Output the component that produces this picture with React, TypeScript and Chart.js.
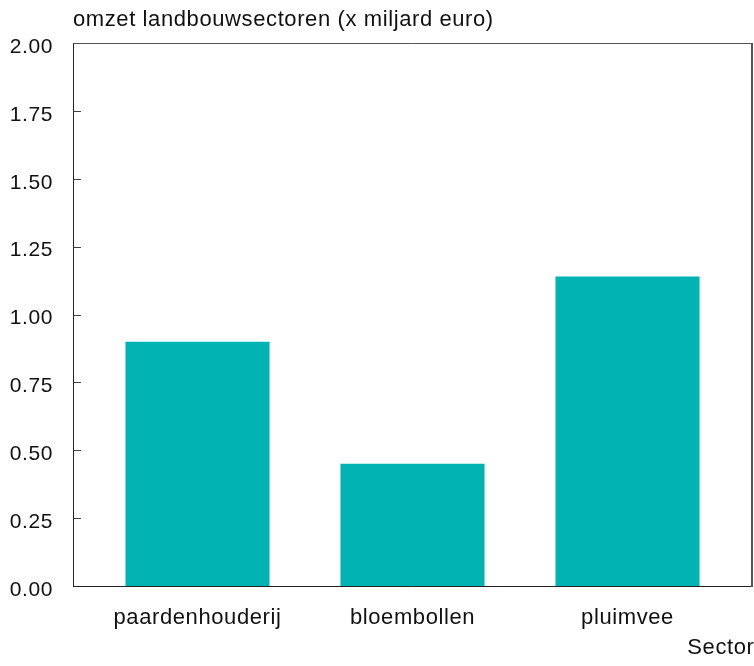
import React, { useEffect, useRef } from "react";
import { Chart, registerables } from "chart.js";

Chart.register(...registerables);

const categories = ["paardenhouderij", "bloembollen", "pluimvee"];
const omzet = [0.9, 0.45, 1.14];
const yTicks = [0, 0.25, 0.5, 0.75, 1.0, 1.25, 1.5, 1.75, 2.0];
const titleText = "omzet landbouwsectoren (x miljard euro)";
const xTitleText = "Sector";

const FONT = "'Liberation Sans', Arial, sans-serif";
const FS = 22;
const SPACING = "0.6px";
const FRAME_GAP = 17;

const framePlugin = {
  id: "framePlugin",
  beforeDraw(chart: any) {
    chart.ctx.letterSpacing = SPACING;
  },
  afterDraw(chart: any) {
    const { ctx, chartArea } = chart;
    const left = chartArea.left - FRAME_GAP;
    const right = chartArea.right + FRAME_GAP;
    const { top, bottom } = chartArea;
    const y = chart.scales.y;
    ctx.save();
    ctx.strokeStyle = "#444";
    ctx.lineWidth = 1;
    yTicks.forEach((v) => {
      const py = Math.round(y.getPixelForValue(v)) + 0.5;
      ctx.beginPath();
      ctx.moveTo(left, py);
      ctx.lineTo(left + 8, py);
      ctx.stroke();
    });
    ctx.strokeStyle = "#222";
    ctx.lineWidth = 1;
    ctx.beginPath();
    ctx.moveTo(left + 0.5, top + 0.5);
    ctx.lineTo(left + 0.5, bottom + 0.5);
    ctx.lineTo(right, bottom + 0.5);
    ctx.stroke();
    ctx.strokeStyle = "#555";
    ctx.beginPath();
    ctx.moveTo(left + 0.5, top + 0.5);
    ctx.lineTo(right, top + 0.5);
    ctx.stroke();
    ctx.lineWidth = 2;
    ctx.beginPath();
    ctx.moveTo(right, top);
    ctx.lineTo(right, bottom + 1);
    ctx.stroke();
    ctx.fillStyle = "#111";
    ctx.font = `${FS}px ${FONT}`;
    ctx.letterSpacing = SPACING;
    ctx.textBaseline = "alphabetic";
    ctx.textAlign = "left";
    ctx.fillText(titleText, left, 26);
    ctx.textAlign = "right";
    ctx.fillText(xTitleText, chart.width + 0.5, 654);
    ctx.restore();
    ctx.letterSpacing = "0px";
  },
};

export default function App() {
  const ref = useRef<HTMLCanvasElement | null>(null);
  useEffect(() => {
    if (!ref.current) return;
    const chart = new Chart(ref.current, {
      type: "bar",
      data: {
        labels: categories,
        datasets: [
          {
            data: omzet,
            backgroundColor: "#00b3b3",
            borderWidth: 0,
            barPercentage: 0.67,
            categoryPercentage: 1,
          },
        ],
      },
      options: {
        animation: false,
        responsive: false,
        maintainAspectRatio: false,
        layout: { padding: { top: 43, right: 19, left: 0, bottom: 0 } },
        plugins: {
          legend: { display: false },
          tooltip: { enabled: false },
          title: { display: false },
        },
        scales: {
          x: {
            grid: { display: false, drawTicks: false },
            border: { display: false },
            ticks: {
              color: "#111",
              font: { family: FONT, size: FS },
              padding: 19,
              maxRotation: 0,
            },
            afterFit(scale: any) {
              scale.height = 80;
              scale.paddingLeft = 0;
              scale.paddingRight = 0;
            },
          },
          y: {
            min: 0,
            max: 2,
            afterBuildTicks(scale: any) {
              scale.ticks = yTicks.map((v) => ({ value: v }));
            },
            grid: { display: false, drawTicks: false },
            border: { display: false },
            ticks: {
              color: "#111",
              font: { family: FONT, size: 21 },
              padding: 37,
              labelOffset: 4,
              callback: (v: any) => Number(v).toFixed(2),
            },
            afterFit(scale: any) {
              scale.width = 90;
              scale.paddingTop = 0;
              scale.paddingBottom = 0;
            },
          },
        },
      },
      plugins: [framePlugin],
    });
    return () => chart.destroy();
  }, []);
  return (
    <div style={{ position: "fixed", left: 0, top: 0, width: 754, height: 666, background: "#fff" }}>
      <canvas ref={ref} width={754} height={666} style={{ display: "block" }} />
    </div>
  );
}
